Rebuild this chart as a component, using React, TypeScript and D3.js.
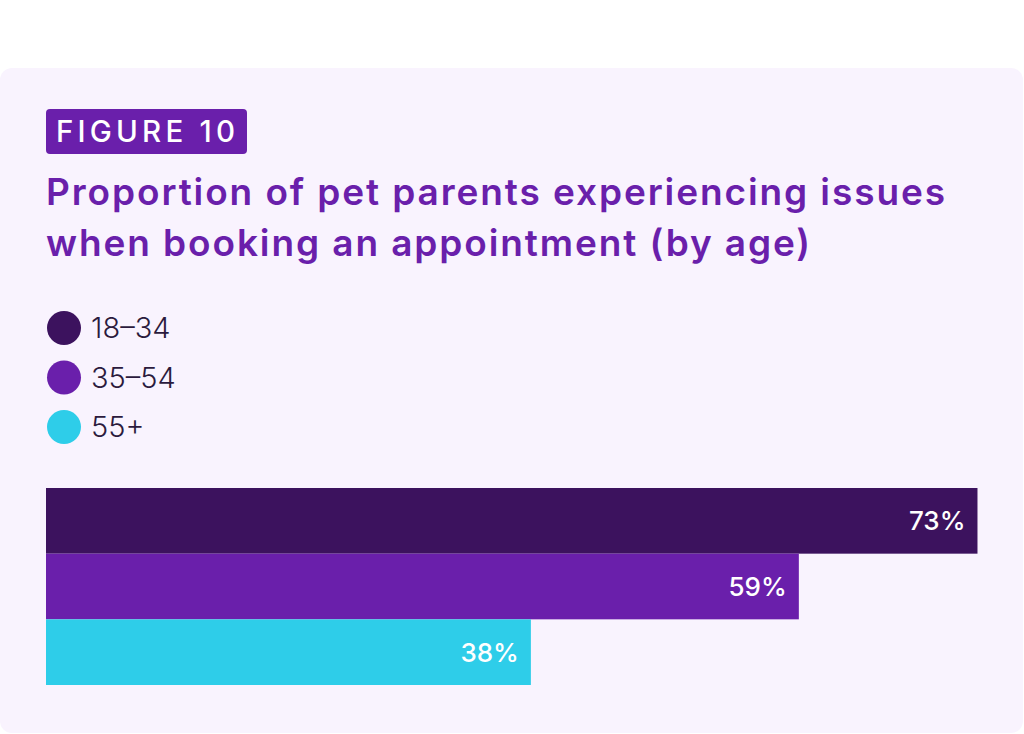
import { useRef, useEffect, RefObject } from 'react';
import * as d3 from 'd3';

const ageGroups: string[] = ['18-34', '35-54', '55+'];
const shares: number[] = [73, 59, 38];
const colors: string[] = ['#3c125e', '#6a1fab', '#2ecde9'];
const titleLines: string[] = [
  'Proportion of pet parents experiencing issues',
  'when booking an appointment (by age)',
];

const FONT = "Inter, 'Noto Sans', sans-serif";

const App = () => {
  const svgRef: RefObject<SVGSVGElement> = useRef(null);

  useEffect(() => {
    const width = 1024;
    const height = 734;
    const svg = d3.select(svgRef.current);
    svg.selectAll('*').remove();
    svg.attr('width', width).attr('height', height)
      .style('display', 'block')
      .style('position', 'absolute')
      .style('left', '0px')
      .style('top', '0px');

    svg.append('rect').attr('width', width).attr('height', height).attr('fill', '#ffffff');

    // card
    svg.append('rect')
      .attr('x', 0).attr('y', 68)
      .attr('width', 1023).attr('height', 665)
      .attr('rx', 12)
      .attr('fill', '#f9f3fe');

    // figure badge
    svg.append('rect')
      .attr('x', 46).attr('y', 109)
      .attr('width', 201).attr('height', 45)
      .attr('rx', 4)
      .attr('fill', '#6a1fab');
    svg.append('text')
      .attr('x', 56).attr('y', 142)
      .attr('fill', '#ffffff')
      .attr('font-family', FONT)
      .attr('font-size', 29.5)
      .attr('font-weight', 500)
      .attr('letter-spacing', 4.2)
      .text('FIGURE 10');

    // title
    svg.append('text')
      .attr('font-family', FONT)
      .attr('font-size', 37)
      .attr('font-weight', 600)
      .attr('letter-spacing', 1.9)
      .attr('fill', '#6a1fab')
      .selectAll('tspan')
      .data(titleLines)
      .join('tspan')
      .attr('x', 46)
      .attr('y', (_, i) => 205 + i * 51)
      .text((d) => d);

    // legend
    const legend = svg.append('g')
      .selectAll('g')
      .data(ageGroups)
      .join('g')
      .attr('transform', (_, i) => `translate(64,${328 + i * 49.5})`);
    legend.append('circle').attr('r', 17).attr('fill', (_, i) => colors[i]);
    legend.append('text')
      .attr('x', 27).attr('dy', '0.36em')
      .attr('font-family', FONT)
      .attr('font-size', 29)
      .attr('font-weight', 300)
      .attr('fill', '#2b1a3d')
      .text((d) => d.replace('-', '–'));

    // bars
    const x = d3.scaleLinear().domain([0, 100]).range([46, 1322]);
    const y = d3.scaleBand().domain(ageGroups).range([488, 685]).padding(0);

    const bars = svg.append('g')
      .selectAll('g')
      .data(ageGroups)
      .join('g');
    bars.append('rect')
      .attr('x', x(0))
      .attr('y', (d) => y(d)!)
      .attr('width', (_, i) => x(shares[i]) - x(0))
      .attr('height', y.bandwidth())
      .attr('fill', (_, i) => colors[i]);
    bars.append('text')
      .attr('x', (_, i) => x(shares[i]) - 12)
      .attr('y', (d) => y(d)! + y.bandwidth() / 2)
      .attr('dy', '0.36em')
      .attr('text-anchor', 'end')
      .attr('font-family', FONT)
      .attr('font-size', 26)
      .attr('font-weight', 500)
      .attr('fill', '#ffffff')
      .text((_, i) => `${shares[i]}%`);
  }, []);

  return <svg ref={svgRef}></svg>;
};

export default App;
